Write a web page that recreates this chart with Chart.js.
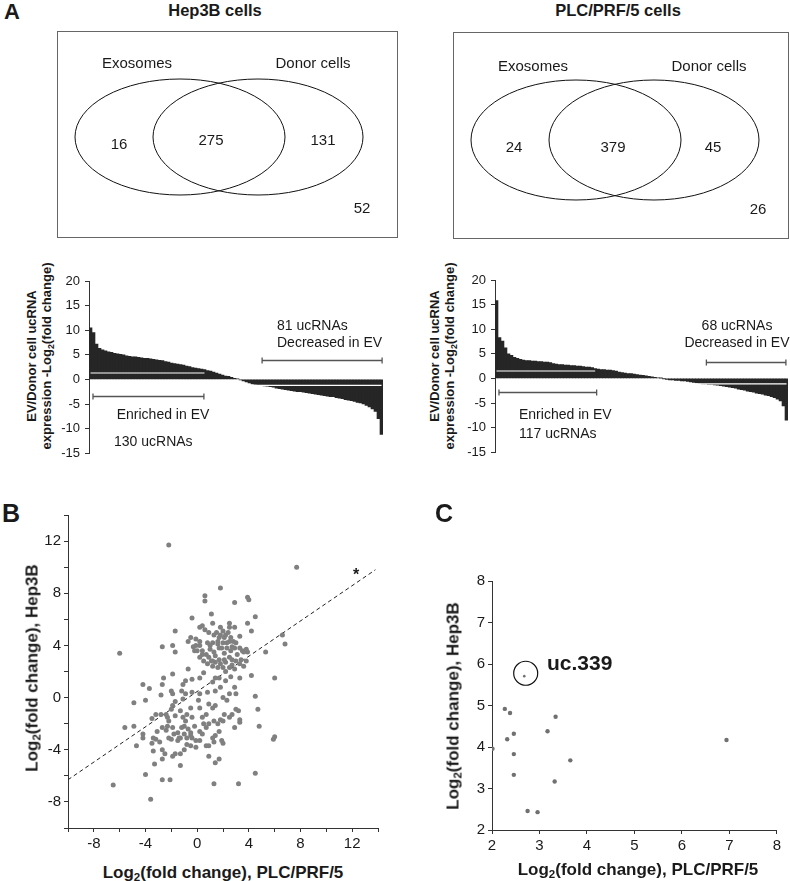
<!DOCTYPE html>
<html>
<head>
<meta charset="utf-8">
<script src="https://cdn.jsdelivr.net/npm/chart.js@4.4.1/dist/chart.umd.min.js"></script>
<style>
  html, body { margin: 0; padding: 0; background: #fff; }
  body { width: 790px; height: 881px; position: relative; overflow: hidden;
         font-family: Arial, "Liberation Sans", Helvetica, sans-serif; color: #1a1a1a; }
  canvas, .box, .t { position: absolute; }
  .t { white-space: nowrap; transform: translate(-50%, -50%); line-height: 1; }
  .t.l { transform: translate(0, -50%); }
  .b { font-weight: bold; }
  .rot { transform: translate(-50%, -50%) rotate(-90deg) !important; text-align: center; }
  .box { border: 1.5px solid #666; box-sizing: border-box; }
  sub { font-size: 0.68em; vertical-align: -0.3em; line-height: 0; }
</style>
</head>
<body>

<!-- panel A : venn -->
<div class="t b" style="left:12px; top:12px; font-size:22px;">A</div>
<div class="t b" style="left:215px; top:10px; font-size:16.5px;">Hep3B cells</div>
<div class="t b" style="left:618px; top:10px; font-size:16.5px;">PLC/PRF/5 cells</div>

<div class="box" style="left:57px; top:31px; width:341px; height:207px;"></div>
<canvas id="vennHep" width="341" height="207" style="left:57px; top:31px;"></canvas>
<div class="box" style="left:453px; top:32px; width:336px; height:207px;"></div>
<canvas id="vennPlc" width="336" height="207" style="left:453px; top:32px;"></canvas>

<div class="t" style="left:137px; top:62px; font-size:15px;">Exosomes</div>
<div class="t" style="left:313px; top:62px; font-size:15px;">Donor cells</div>
<div class="t" style="left:533px; top:65px; font-size:15px;">Exosomes</div>
<div class="t" style="left:709px; top:65px; font-size:15px;">Donor cells</div>
<div id="vennLabels"></div>

<!-- panel A : waterfall bars -->
<canvas id="barHep" width="324" height="205" style="left:59px; top:261px;"></canvas>
<canvas id="barPlc" width="323" height="205" style="left:465px; top:260px;"></canvas>

<div class="t b rot" style="left:39px; top:356px; font-size:13px; line-height:15px;">EV/Donor cell ucRNA<br>expression -Log<sub>2</sub>(fold change)</div>
<div class="t b rot" style="left:442px; top:356px; font-size:13px; line-height:15px;">EV/Donor cell ucRNA<br>expression -Log<sub>2</sub>(fold change)</div>

<div class="t" style="left:163px; top:414px; font-size:14px;">Enriched in EV</div>
<div class="t l" style="left:114px; top:441px; font-size:14px;">130 ucRNAs</div>
<div class="t l" style="left:277px; top:325px; font-size:14px;">81 ucRNAs</div>
<div class="t l" style="left:277px; top:342px; font-size:14px;">Decreased in EV</div>

<div class="t l" style="left:519px; top:414px; font-size:14px;">Enriched in EV</div>
<div class="t l" style="left:519px; top:433px; font-size:14px;">117 ucRNAs</div>
<div class="t" style="left:737px; top:325px; font-size:14px;">68 ucRNAs</div>
<div class="t" style="left:737px; top:342px; font-size:14px;">Decreased in EV</div>

<!-- panel B -->
<div class="t b" style="left:11px; top:513px; font-size:25px;">B</div>
<canvas id="scatterB" width="358" height="355" style="left:30px; top:503px;"></canvas>
<div class="t b rot" style="left:32px; top:668px; font-size:17px;">Log<sub>2</sub>(fold change), Hep3B</div>
<div class="t b" style="left:223px; top:872px; font-size:17px;">Log<sub>2</sub>(fold change), PLC/PRF/5</div>
<div class="t b" style="left:356px; top:575px; font-size:16px;">*</div>

<!-- panel C -->
<div class="t b" style="left:444px; top:513px; font-size:25px;">C</div>
<canvas id="scatterC" width="328" height="292" style="left:462px; top:568px;"></canvas>
<div class="t b rot" style="left:453px; top:706px; font-size:17px;">Log<sub>2</sub>(fold change), Hep3B</div>
<div class="t b" style="left:638px; top:869px; font-size:17px;">Log<sub>2</sub>(fold change), PLC/PRF/5</div>
<div class="t l b" style="left:547px; top:662px; font-size:21px;">uc.339</div>

<script>
// --- DATA --- //
// venn counts: exosome only, both, donor only, neither
const vennHep3B = [16, 275, 131, 52];
const vennPLC = [24, 379, 45, 26];

// EV/donor log2 fold change, sorted (one bar per ~3 ucRNAs)
const foldHep3B = [
  10.5, 9.5, 7.2, 6.3, 6.0, 5.8, 5.6, 5.5, 5.3, 5.2, 5.1, 5.0, 4.8, 4.7, 4.6, 4.6, 4.5, 4.4, 4.3, 4.3,
  4.2, 4.1, 4.0, 3.9, 3.8, 3.6, 3.5, 3.3, 3.2, 3.1, 3.0, 2.9, 2.7, 2.6, 2.4, 2.3, 2.2, 2.1, 2.0, 1.8,
  1.7, 1.5, 1.3, 1.1, 0.9, 0.7, 0.6, 0.4, 0.2, 0.1,
  -0.1, -0.3, -0.5, -0.7, -0.9, -1.0, -1.1, -1.2, -1.3, -1.4, -1.5, -1.6, -1.8, -1.9, -2.0, -2.1, -2.2, -2.3,
  -2.4, -2.5, -2.5, -2.6, -2.7, -2.8, -2.9, -3.0, -3.1, -3.2, -3.3, -3.4, -3.5, -3.5, -3.7, -3.8, -3.9,
  -4.1, -4.2, -4.3, -4.5, -4.7, -4.8, -5.0, -5.3, -5.6, -6.0, -6.5, -8.0, -11.2
];
const foldPLC = [
  15.8, 8.3, 7.6, 6.2, 5.0, 4.7, 4.3, 4.1, 3.9, 3.7, 3.6, 3.6, 3.5, 3.5, 3.4, 3.4, 3.3, 3.3, 3.2, 3.0,
  2.9, 2.8, 2.8, 2.7, 2.7, 2.6, 2.6, 2.5, 2.5, 2.4, 2.3, 2.3, 2.2, 2.0, 1.9, 1.8, 1.8, 1.7, 1.7, 1.6,
  1.5, 1.3, 1.2, 1.1, 1.0, 1.0, 0.9, 0.8, 0.7, 0.6, 0.5, 0.4, 0.3, 0.2, 0.1, 0.05,
  -0.05, -0.2, -0.3, -0.3, -0.4, -0.4, -0.5, -0.5, -0.6, -0.7, -0.8, -0.9, -1.0, -1.1, -1.1, -1.2, -1.2,
  -1.3, -1.4, -1.5, -1.6, -1.7, -1.8, -1.9, -2.0, -2.2, -2.3, -2.4, -2.6, -2.7, -2.8, -3.0, -3.1, -3.2,
  -3.4, -3.5, -3.7, -3.9, -4.2, -4.6, -5.6, -8.5
];
const yTicksBar = [-15, -10, -5, 0, 5, 10, 15, 20];

// panel B: [PLC/PRF/5, Hep3B] log2 fold change
const pointsB = [
  [-2.2,11.7],[7.7,10.0],[-6.0,3.4],[-6.5,-6.7],[-3.6,-7.8],[-4.0,-5.9],[-2.7,-6.3],[-2.1,-6.3],[1.3,-6.6],[3.2,-6.6],
  [4.5,-5.8],[6.0,-3.0],[5.9,-3.2],[6.0,1.5],[5.3,3.5],[6.8,4.1],[6.6,4.8],[4.5,6.2],[3.9,7.7],[4.0,7.5],
  [2.9,7.3],[0.6,7.8],[0.6,7.4],[1.8,8.4],[-0.4,6.1],[1.1,6.4],[-1.7,5.1],[-1.9,4.0],[-1.7,3.5],[-2.7,3.9],
  [-0.7,4.3],[-0.5,4.6],[4.2,5.1],[3.9,5.7],[3.3,4.7],[2.9,5.4],[2.5,5.7],[2.5,5.4],[1.2,5.7],[0.4,5.5],
  [0.2,5.4],[0.6,5.2],[0.9,5.0],[1.8,5.4],[1.5,5.0],[1.8,4.8],[2.2,4.8],[0.2,4.3],[-0.1,4.5],[-0.3,3.9],
  [0,3.6],[0.4,3.6],[0.7,3.3],[1.0,4.0],[1.2,4.2],[1.6,4.3],[2.0,4.2],[2.5,4.3],[2.7,3.9],[3.0,4.2],
  [3.3,3.8],[3.5,3.6],[3.8,3.7],[3.1,3.3],[1.7,3.8],[1.3,3.5],[2.1,3.4],[2.5,3.1],[2.7,2.9],[3.0,2.8],
  [3.3,2.6],[3.6,2.4],[2.2,2.7],[1.8,2.6],[1.4,2.7],[1.1,2.8],[0.8,2.6],[0.2,3.1],[0.5,1.9],[0.2,1.5],
  [2.2,2.0],[2.5,2.3],[3.3,1.5],[4.2,1.7],[2.6,1.6],[1.2,1.2],[-0.4,1.4],[-0.9,1.3],[-1.1,1.0],[-1.9,1.8],
  [-2.6,1.5],[-2.7,1.0],[-2.0,0.5],[-2.8,0.2],[-3.7,0.7],[-4.2,1.0],[-4.0,-0.2],[-4.9,-0.4],[-0.7,2.2],[-0.9,0.3],
  [-0.4,0.4],[0.1,-0.2],[0.8,0.4],[1.4,0.5],[1.8,0.8],[2.5,0.3],[3.0,0.3],[2.0,0.0],[2.3,-0.2],[1.4,-0.6],
  [0.9,-0.5],[1.2,-0.8],[0.7,-1.3],[0.2,-0.8],[-0.5,-0.8],[-0.8,-1.3],[-1.3,-1.0],[-1.9,-0.6],[-2.0,-0.9],[-1.7,-1.4],
  [-2.3,-1.5],[-3.5,-1.6],[-4.9,-2.2],[-5.6,-2.3],[-4.2,-2.8],[-3.4,-3.1],[-3.5,-3.5],[-3.1,-2.6],[-2.7,-2.3],[-2.3,-2.2],
  [-2.4,-2.5],[-2.0,-3.2],[-1.5,-3.3],[-1.3,-3.1],[-1.0,-2.8],[-0.7,-2.4],[-0.5,-2.9],[-0.2,-2.2],[0.2,-2.6],[0.4,-2.8],
  [0.7,-2.3],[0.9,-2.0],[1.3,-1.8],[1.6,-2.0],[2.0,-1.8],[2.1,-1.3],[2.5,-1.5],[3.0,-0.9],[3.2,-1.0],[3.3,-1.7],
  [3.3,-1.9],[4.5,0.1],[4.7,-0.9],[4.8,-2.2],[1.2,-3.1],[1.4,-2.9],[1.3,-3.4],[1.9,-3.3],[2.0,-3.5],[0.7,-3.7],
  [0.9,-3.7],[0.9,-4.5],[0.2,-3.3],[-0.1,-3.8],[-0.5,-3.7],[-0.8,-3.6],[-1.0,-4.0],[-1.3,-4.3],[-1.9,-4.5],[-1.7,-4.3],
  [-1.3,-5.2],[-2.7,-4.0],[-2.5,-4.3],[-2.7,-4.7],[-3.3,-5.1],[-3.4,-4.1],[-4.7,-3.7],[-4.2,-3.1],[-1.5,-2.7],[-1.9,-2.3],
  [-1.8,-2.8],[-1.2,-2.3],[-1.0,-2.2],[1.4,-5.0],[1.7,-4.7],[-3.2,-3.2],[-2.9,-3.4],[-1.4,-3.1],[-2.2,-3.1],[-0.8,-3.1],
  [-0.4,-3.1],[-0.1,-3.3],[-0.5,-2.7],[-0.9,-1.8],[-1.1,-1.5],[-0.4,-1.5],[0.4,-1.5],[0.5,-2.0],[1.7,-2.6],[1.8,-1.7],
  [2.7,-1.3],[2.9,-2.3],[0.2,0.3],[2.2,1.3],[2.9,0.8],[1.7,1.5],[1.4,1.5],[-1.2,0.5],[-1.9,0.3],[-3.2,-1.3],
  [-2.8,-1.3],[-2.4,-1.3],[-2.2,-1.8],[-1.1,-0.1],[-1.7,-0.3],[0.2,4.0],[0.8,4.2],[1.3,4.8],[1.7,4.6],[2.1,4.6],
  [2.3,4.2],[1.9,3.8],[2.3,3.8],[1.4,3.2],[1.7,2.9],[2.1,2.9],[1.2,2.8],[0.9,3.1],[0.5,2.8],[2.7,2.5],
  [2.9,2.2],[3.4,2.9],[3.8,2.8],[3.6,3.5],[3.9,3.5],[2.9,3.8],[2.6,3.6],[1.6,4.1],[1.0,3.7],[0.4,3.3],
  [-0.1,4.0],[-0.2,3.6],[2.0,5.1],[2.4,5.0],[2.8,4.3],[2.6,4.6],[1.6,2.3],[2.0,2.3],[1.2,2.4]
];
// trend line end points
const trendX = [-10, 13.8];
const trendY = [-6.3, 9.8];

// panel C: ucRNAs enriched in both lines
const pointsC = [
  [2.27,4.92],[2.38,4.82],[2.46,4.32],[2.32,4.19],[2.01,3.96],[2.46,3.83],[2.46,3.33],[2.75,2.46],
  [2.96,2.43],[3.17,4.38],[3.34,4.73],[3.32,3.17],[3.65,3.68],[6.94,4.17]
];
const uc339 = [2.68, 5.71];

// --- SETUP --- //
Chart.defaults.font.family = 'Arial, "Liberation Sans", Helvetica, sans-serif';
Chart.defaults.color = '#1a1a1a';
const noChrome = { legend: { display: false }, tooltip: { enabled: false } };

// venn counts as text
const vennSpots = {
  hep: [[119, 143], [211, 139], [323, 139], [362, 207]],
  plc: [[514, 146], [613, 146], [713, 146], [758, 208]]
};
const holder = document.getElementById('vennLabels');
[[vennHep3B, vennSpots.hep], [vennPLC, vennSpots.plc]].forEach(([vals, spots]) => {
  vals.forEach((v, i) => {
    const d = document.createElement('div');
    d.className = 't';
    d.style.cssText = `left:${spots[i][0]}px; top:${spots[i][1]}px; font-size:15px;`;
    d.textContent = v;
    holder.appendChild(d);
  });
});

// ellipses drawn on a hidden pixel-sized scale
const vennPlugin = {
  id: 'venn',
  afterDraw(chart, args, opts) {
    const { ctx } = chart, x = chart.scales.x, y = chart.scales.y;
    ctx.save();
    ctx.strokeStyle = '#111';
    ctx.lineWidth = 1;
    (opts.ellipses || []).forEach(e => {
      ctx.beginPath();
      ctx.ellipse(x.getPixelForValue(e[0]), y.getPixelForValue(e[1]),
        Math.abs(x.getPixelForValue(e[2]) - x.getPixelForValue(0)),
        Math.abs(y.getPixelForValue(e[3]) - y.getPixelForValue(0)), 0, 0, Math.PI * 2);
      ctx.stroke();
    });
    ctx.restore();
  }
};

function venn(id, w, h, ellipses) {
  new Chart(document.getElementById(id), {
    type: 'scatter',
    data: { datasets: [] },
    plugins: [vennPlugin],
    options: {
      responsive: false, animation: false,
      layout: { padding: 0 },
      plugins: { ...noChrome, venn: { ellipses } },
      scales: {
        x: { display: false, min: 0, max: w },
        y: { display: false, min: 0, max: h, reverse: true }
      }
    }
  });
}
venn('vennHep', 341, 207, [[123, 106, 105, 58], [201, 106, 105, 58]]);
venn('vennPlc', 336, 207, [[123, 108, 105, 60], [201, 108, 105, 60]]);

// brackets over the waterfall bars
const bracketPlugin = {
  id: 'brackets',
  afterDatasetsDraw(chart, args, opts) {
    const { ctx } = chart, xs = chart.scales.x, ys = chart.scales.y;
    ctx.save();
    ctx.strokeStyle = '#555';
    ctx.lineWidth = 1.3;
    (opts.items || []).forEach(([a, b, v]) => {
      const x1 = xs.getPixelForValue(a), x2 = xs.getPixelForValue(b);
      const yy = Math.round(ys.getPixelForValue(v)) + 0.5;
      ctx.beginPath();
      ctx.moveTo(x1, yy); ctx.lineTo(x2, yy);
      ctx.moveTo(x1, yy - 3); ctx.lineTo(x1, yy + 3);
      ctx.moveTo(x2, yy - 3); ctx.lineTo(x2, yy + 3);
      ctx.stroke();
    });
    ctx.restore();
  }
};

function waterfall(id, values, cutPos, cutNeg, brackets) {
  const labels = values.map((v, i) => i + 1);
  const cut = (lo, hi, v) => labels.map((_, i) => (i >= lo && i <= hi ? v : null));
  const whiteLine = data => ({ type: 'line', data, borderColor: '#fff', borderWidth: 1.2, pointRadius: 0, order: 0 });
  new Chart(document.getElementById(id), {
    type: 'bar',
    data: {
      labels,
      datasets: [
        whiteLine(cut(...cutPos)),
        whiteLine(cut(...cutNeg)),
        { data: values, backgroundColor: '#262626', borderWidth: 0, barPercentage: 1, categoryPercentage: 1, order: 1 }
      ]
    },
    plugins: [bracketPlugin],
    options: {
      responsive: false, animation: false,
      layout: { padding: { top: 20, bottom: 10, left: 0, right: 0 } },
      plugins: { ...noChrome, brackets: { items: brackets } },
      scales: {
        x: { display: false },
        y: {
          min: yTicksBar[0], max: yTicksBar[yTicksBar.length - 1],
          afterBuildTicks: s => { s.ticks = yTicksBar.map(v => ({ value: v })); },
          ticks: { font: { size: 13 }, padding: 5 },
          grid: { drawOnChartArea: false, tickLength: 4, color: '#333' },
          border: { color: '#333' },
          afterFit: s => { s.width = 30; }
        }
      }
    }
  });
}
waterfall('barHep', foldHep3B, [0, 38, 1.3], [50, 97, -1.2], [[0.83, 37.8, -3.3], [57.2, 97.2, 3.9]]);
waterfall('barPlc', foldPLC, [0, 33, 1.5], [55, 97, -1.1], [[0.83, 33.5, -2.8], [70.2, 96.8, 3.4]]);

// scatter panels
function linAxis(min, max, step, every, fit) {
  return {
    type: 'linear', min, max,
    ticks: {
      stepSize: step, autoSkip: false, maxRotation: 0, font: { size: 15 }, padding: 3,
      callback: v => (Math.abs(v % every) < 1e-9 ? v : '')
    },
    grid: { drawOnChartArea: false, tickLength: 4, color: '#333' },
    border: { color: '#333' },
    afterFit: fit
  };
}
const toXY = arr => arr.map(p => ({ x: p[0], y: p[1] }));

new Chart(document.getElementById('scatterB'), {
  type: 'scatter',
  data: {
    datasets: [
      { data: toXY(pointsB), backgroundColor: '#808080', borderWidth: 0, pointRadius: 2.5 },
      { data: trendX.map((x, i) => ({ x, y: trendY[i] })), showLine: true, borderColor: '#222',
        borderWidth: 1, borderDash: [4, 3], pointRadius: 0 }
    ]
  },
  options: {
    responsive: false, animation: false,
    layout: { padding: { top: 10, right: 10 } },
    plugins: noChrome,
    scales: {
      x: linAxis(-10, 14, 2, 4, s => { s.height = 30; }),
      y: linAxis(-10, 14, 2, 4, s => { s.width = 38; })
    }
  }
});

new Chart(document.getElementById('scatterC'), {
  type: 'scatter',
  data: {
    datasets: [
      { data: toXY(pointsC), backgroundColor: '#707070', borderWidth: 0, pointRadius: 2.2 },
      { data: toXY([uc339]), backgroundColor: '#707070', borderWidth: 0, pointRadius: 1.3 },
      { data: [{ x: uc339[0] + 0.03, y: uc339[1] + 0.07 }], backgroundColor: 'rgba(0,0,0,0)',
        borderColor: '#111', borderWidth: 1.2, pointRadius: 12 }
    ]
  },
  options: {
    responsive: false, animation: false,
    layout: { padding: { top: 10, right: 5 } },
    plugins: noChrome,
    scales: {
      x: linAxis(2, 8, 1, 1, s => { s.height = 30; }),
      y: linAxis(2, 8, 1, 1, s => { s.width = 30; })
    }
  }
});
</script>
</body>
</html>
